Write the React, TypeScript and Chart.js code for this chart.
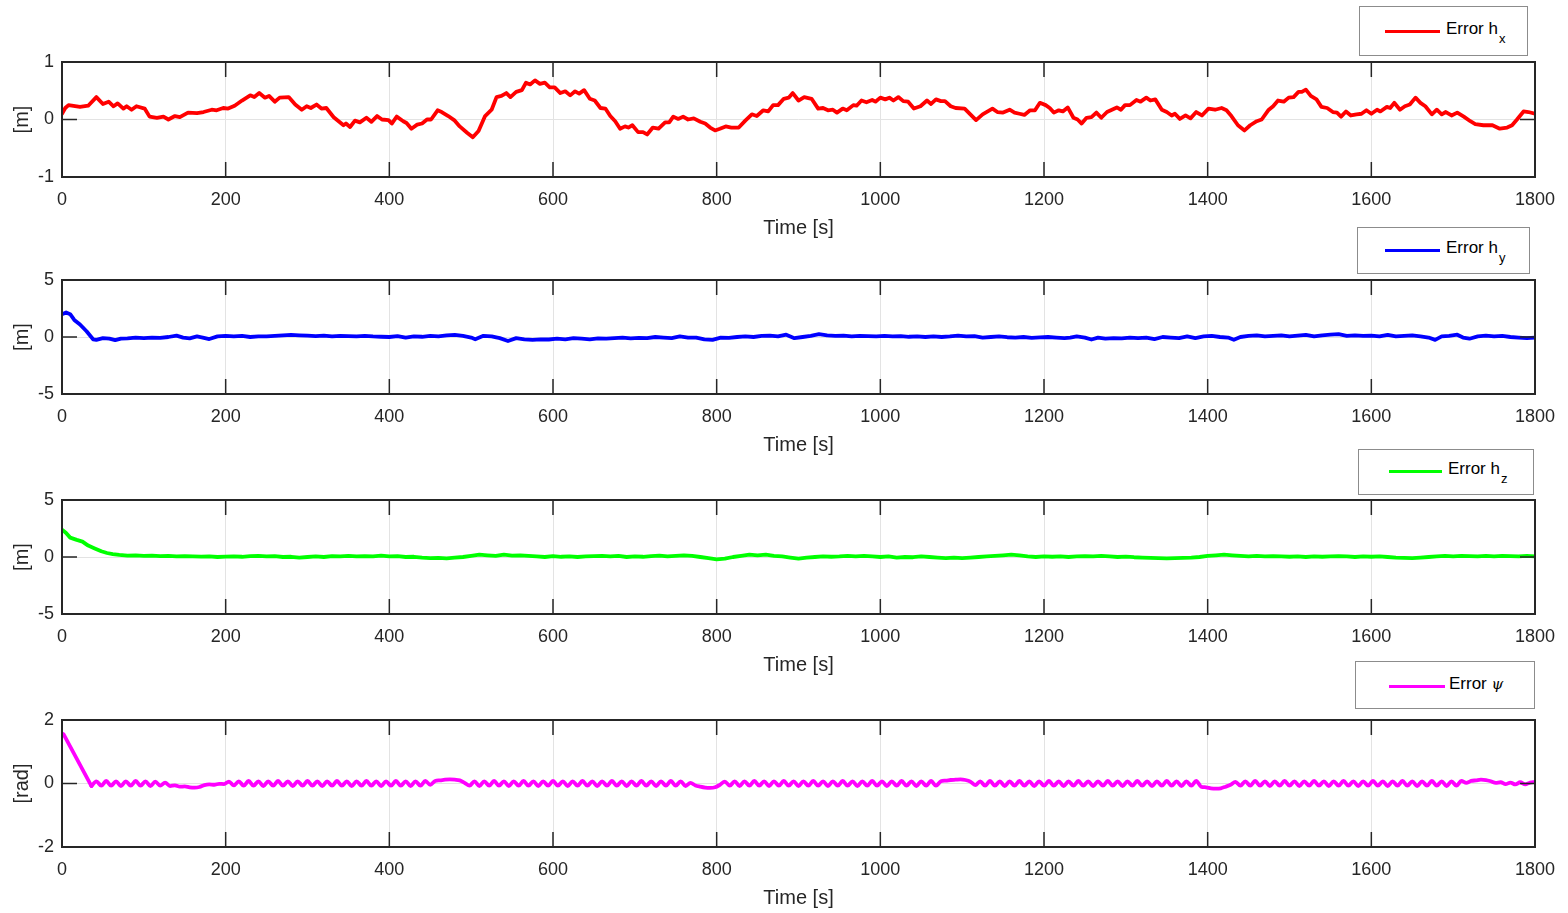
import React, { useEffect, useRef } from "react";
import { Chart, registerables } from "chart.js";

Chart.register(...registerables);

// ---------------- data ----------------
const X_MIN = 0;
const X_MAX = 1800;
const X_STEP = 200;

// Error h_x [m]
const hxT = [0,4,8,22,32,42,50,57,63,68,75,79,85,91,101,107,116,124,130,138,144,154,165,173,183,189,197,203,211,220,230,235,241,248,253,260,266,277,285,293,299,304,311,317,323,332,338,344,347,352,358,364,372,378,385,391,399,403,409,417,421,427,434,440,446,451,459,464,472,480,486,495,502,509,517,525,531,537,543,548,555,562,567,572,578,584,590,596,602,609,615,621,627,632,638,645,651,658,664,670,676,682,688,692,697,704,710,715,722,729,737,742,747,753,759,765,772,780,786,792,798,804,811,818,827,835,843,849,857,863,869,875,882,888,893,900,907,916,924,930,936,942,947,954,959,967,971,977,983,990,994,1000,1006,1011,1016,1022,1028,1034,1041,1049,1057,1062,1068,1074,1079,1086,1092,1103,1110,1117,1125,1137,1143,1150,1158,1164,1170,1176,1183,1189,1195,1202,1207,1212,1218,1223,1229,1236,1241,1246,1252,1258,1264,1270,1277,1283,1289,1294,1299,1305,1313,1318,1325,1330,1336,1344,1350,1356,1360,1366,1373,1379,1386,1393,1401,1409,1417,1423,1429,1437,1445,1452,1460,1466,1474,1480,1486,1493,1499,1505,1511,1515,1520,1526,1533,1539,1546,1553,1558,1563,1569,1575,1582,1588,1594,1600,1607,1611,1619,1623,1628,1635,1641,1647,1654,1660,1666,1674,1680,1686,1691,1698,1705,1713,1721,1727,1737,1748,1757,1766,1772,1778,1786,1792,1800];
const hxV = [0.1,0.2,0.25,0.22,0.24,0.39,0.27,0.31,0.23,0.28,0.19,0.23,0.17,0.23,0.19,0.05,0.03,0.05,0,0.06,0.04,0.12,0.11,0.13,0.17,0.16,0.2,0.19,0.24,0.33,0.42,0.39,0.46,0.38,0.41,0.31,0.38,0.39,0.26,0.17,0.23,0.2,0.26,0.19,0.2,0.04,-0.03,-0.1,-0.07,-0.13,-0.02,-0.05,0.03,-0.04,0.06,0,-0.01,-0.07,0.05,-0.03,-0.06,-0.16,-0.09,-0.07,0,0,0.16,0.13,0.06,-0.02,-0.12,-0.23,-0.31,-0.2,0.06,0.17,0.39,0.41,0.46,0.39,0.48,0.51,0.64,0.61,0.68,0.62,0.64,0.56,0.56,0.46,0.49,0.42,0.49,0.45,0.51,0.36,0.33,0.2,0.19,0.06,-0.03,-0.16,-0.12,-0.14,-0.1,-0.22,-0.22,-0.26,-0.14,-0.16,-0.05,-0.05,0.05,0.01,0.05,0,0.02,-0.04,-0.07,-0.14,-0.19,-0.16,-0.12,-0.14,-0.14,-0.02,0.09,0.06,0.16,0.14,0.25,0.25,0.36,0.38,0.46,0.33,0.39,0.36,0.19,0.2,0.16,0.17,0.12,0.19,0.16,0.25,0.24,0.33,0.3,0.34,0.31,0.38,0.35,0.38,0.33,0.39,0.32,0.31,0.19,0.23,0.33,0.27,0.35,0.32,0.32,0.23,0.2,0.19,0.09,-0.01,0.09,0.19,0.13,0.12,0.17,0.12,0.1,0.08,0.16,0.16,0.29,0.25,0.2,0.12,0.16,0.14,0.21,0.03,0,-0.07,0.03,0.04,0.12,0.03,0.13,0.17,0.21,0.17,0.25,0.25,0.34,0.31,0.38,0.33,0.35,0.17,0.13,0.07,0.1,0.01,0.07,0.02,0.13,0.07,0.19,0.17,0.2,0.16,0.06,-0.1,-0.19,-0.1,-0.03,0,0.16,0.23,0.33,0.31,0.38,0.39,0.48,0.48,0.52,0.41,0.35,0.22,0.2,0.13,0.12,0.05,0.14,0.07,0.09,0.1,0.16,0.1,0.17,0.14,0.22,0.2,0.29,0.17,0.23,0.26,0.38,0.29,0.23,0.09,0.17,0.09,0.13,0.07,0.12,0.05,-0.03,-0.08,-0.1,-0.1,-0.16,-0.14,-0.1,0,0.14,0.13,0.1];

// Error h_y [m]
const hyT = [0,5,10,15,22,30,38,42,50,58,65,72,80,90,100,110,120,130,140,148,156,165,172,180,190,200,210,220,230,240,250,260,270,280,290,300,310,320,330,340,350,360,370,380,390,400,410,420,430,440,450,460,470,480,490,500,505,515,525,535,545,555,565,575,585,595,605,615,625,635,645,655,665,675,685,695,705,715,725,735,745,755,765,775,785,795,805,815,825,835,845,855,865,875,885,895,905,915,925,935,945,955,965,975,985,995,1005,1015,1025,1035,1045,1055,1065,1075,1085,1095,1105,1115,1125,1135,1145,1155,1165,1175,1185,1195,1205,1215,1225,1232,1240,1250,1258,1266,1275,1285,1295,1305,1315,1325,1335,1345,1355,1365,1375,1385,1395,1405,1415,1425,1432,1440,1450,1460,1470,1480,1490,1500,1510,1520,1530,1540,1550,1560,1570,1580,1590,1600,1610,1620,1630,1640,1650,1660,1670,1678,1686,1695,1705,1712,1720,1730,1740,1750,1760,1770,1780,1790,1800];
const hyV = [2.0,2.15,2.0,1.5,1.1,0.5,-0.2,-0.25,-0.1,-0.15,-0.28,-0.15,-0.12,-0.05,-0.1,-0.05,-0.08,0.0,0.12,-0.05,-0.12,0.05,-0.05,-0.18,0.05,0.1,0.05,0.1,0.0,0.05,0.05,0.1,0.15,0.18,0.15,0.12,0.08,0.12,0.05,0.1,0.08,0.05,0.1,0.05,0.02,0.0,0.08,-0.05,0.05,0.02,0.1,0.05,0.15,0.18,0.1,-0.05,-0.2,0.1,0.05,-0.1,-0.35,-0.1,-0.2,-0.25,-0.2,-0.22,-0.15,-0.2,-0.1,-0.15,-0.2,-0.12,-0.15,-0.1,-0.05,-0.12,-0.08,-0.1,0.0,-0.05,-0.1,0.05,-0.05,-0.05,-0.2,-0.25,-0.05,-0.08,0.0,0.05,0.0,0.1,0.12,0.05,0.2,-0.1,0.0,0.1,0.25,0.15,0.1,0.12,0.05,0.1,0.08,0.05,0.1,0.05,0.08,0.02,0.05,0.0,0.05,0.0,0.05,0.12,0.05,0.08,-0.05,0.0,0.05,-0.02,-0.05,0.0,-0.08,-0.03,0.0,-0.05,-0.1,-0.05,0.05,-0.05,-0.22,-0.05,-0.15,-0.1,-0.12,-0.05,-0.1,-0.05,-0.18,0.0,-0.05,-0.1,0.05,-0.1,0.05,0.1,0.0,-0.05,-0.25,0.0,0.1,0.15,0.05,0.1,0.15,0.05,0.12,0.18,0.05,0.15,0.2,0.25,0.1,0.15,0.1,0.12,0.05,0.18,0.05,0.1,0.15,0.05,-0.05,-0.25,0.05,0.1,0.2,-0.05,-0.15,0.05,0.12,0.05,0.1,0.0,-0.05,-0.1,-0.05];

// Error h_z [m]
const hzT = [0,5,10,18,25,32,40,48,55,62,70,80,90,100,110,120,130,140,150,160,170,180,190,200,210,220,230,240,250,260,270,280,290,300,310,320,330,340,350,360,370,380,390,400,410,420,430,440,450,460,470,480,490,500,510,520,530,540,550,560,570,580,590,600,610,620,630,640,650,660,670,680,690,700,710,720,730,740,750,760,770,780,790,800,810,820,830,840,850,860,870,880,890,900,910,920,930,940,950,960,970,980,990,1000,1010,1020,1030,1040,1050,1060,1070,1080,1090,1100,1110,1120,1130,1140,1150,1160,1170,1180,1190,1200,1210,1220,1230,1240,1250,1260,1270,1280,1290,1300,1310,1320,1330,1340,1350,1360,1370,1380,1390,1400,1410,1420,1430,1440,1450,1460,1470,1480,1490,1500,1510,1520,1530,1540,1550,1560,1570,1580,1590,1600,1610,1620,1630,1640,1650,1660,1670,1680,1690,1700,1710,1720,1730,1740,1750,1760,1770,1780,1790,1800];
const hzV = [2.4,2.1,1.7,1.5,1.35,1.0,0.75,0.5,0.35,0.25,0.18,0.12,0.15,0.1,0.12,0.08,0.1,0.05,0.08,0.05,0.03,0.05,0.0,0.03,0.05,0.02,0.08,0.1,0.05,0.08,0.0,0.02,-0.05,0.0,0.05,0.0,0.08,0.05,0.1,0.05,0.08,0.05,0.12,0.05,0.08,0.0,0.02,-0.05,-0.1,-0.08,-0.12,-0.05,0.0,0.1,0.2,0.15,0.1,0.2,0.12,0.15,0.1,0.05,0.0,0.08,0.02,0.05,0.0,0.05,0.08,0.1,0.05,0.1,0.0,0.05,0.02,0.08,0.12,0.05,0.1,0.15,0.1,0.0,-0.1,-0.2,-0.15,0.0,0.1,0.2,0.15,0.2,0.1,0.05,-0.05,-0.15,-0.05,0.0,0.05,0.02,0.05,0.1,0.05,0.1,0.05,0.0,0.05,-0.05,0.0,-0.02,0.05,0.0,-0.05,-0.1,-0.05,-0.1,-0.05,0.0,0.05,0.1,0.15,0.2,0.15,0.05,0.0,0.05,0.02,0.05,0.0,0.05,0.08,0.05,0.1,0.05,0.0,0.03,-0.02,-0.05,-0.08,-0.1,-0.12,-0.1,-0.08,-0.05,0.0,0.1,0.15,0.2,0.15,0.1,0.05,0.1,0.05,0.08,0.05,0.02,0.05,0.0,0.05,0.02,0.05,0.08,0.05,0.0,0.05,0.02,0.05,0.0,-0.05,-0.08,-0.1,-0.05,0.0,0.05,0.1,0.05,0.1,0.08,0.05,0.1,0.05,0.1,0.08,0.05,0.1,0.05];

// Error psi [rad]: initial transient, then samples every PSI_DT seconds from PSI_T0
const psiStartT = [0, 2, 36];
const psiStartV = [1.58, 1.55, -0.08];
const PSI_T0 = 36;
const PSI_DT = 6;
const psiV = [
  -0.08,0.07,-0.07,0.08,-0.07,0.07,-0.08,0.07,-0.07,0.08,-0.07,0.07,-0.08,0.06,-0.07,0.03,-0.08,-0.06,-0.1,-0.09,-0.12,-0.13,-0.11,-0.05,-0.03,-0.04,-0.01,-0.02,
  0.06,-0.06,0.07,-0.07,0.08,-0.07,0.07,-0.08,0.07,-0.07,
  0.08,-0.07,0.07,-0.08,0.07,-0.07,0.08,-0.07,0.07,-0.08,
  0.07,-0.07,0.08,-0.07,0.07,-0.08,0.07,-0.07,0.08,-0.07,
  0.07,-0.08,0.07,-0.07,0.08,-0.07,0.07,-0.08,0.07,-0.07,
  0.08,-0.04,
  0.08,0.1,0.12,0.13,0.12,0.1,0.02,
  -0.07,0.07,-0.08,0.07,-0.07,0.08,-0.07,0.07,-0.08,0.07,
  -0.07,0.08,-0.07,0.07,-0.08,0.07,-0.07,0.08,-0.07,0.07,
  -0.08,0.07,-0.07,0.08,-0.07,0.07,-0.08,0.07,-0.07,0.08,
  -0.07,0.07,-0.08,0.07,-0.07,0.08,-0.07,0.07,-0.08,0.07,
  -0.07,0.08,-0.07,0.07,-0.08,0.02,
  -0.06,-0.1,-0.13,-0.14,-0.12,
  -0.04,0.06,-0.07,0.07,-0.08,0.07,-0.07,0.08,-0.07,0.07,
  -0.08,0.07,-0.07,0.08,-0.07,0.07,-0.08,0.07,-0.07,0.08,
  -0.07,0.07,-0.08,0.07,-0.07,0.08,-0.07,0.07,-0.08,0.07,
  -0.07,0.08,-0.07,0.07,-0.08,0.07,-0.07,0.08,-0.07,0.07,
  -0.08,0.07,-0.07,0.08,-0.07,0.07,
  0.09,0.11,0.12,0.13,0.11,0.06,
  -0.05,0.07,-0.07,0.08,-0.07,0.07,-0.08,0.07,-0.07,0.08,
  -0.07,0.07,-0.08,0.07,-0.07,0.08,-0.07,0.07,-0.08,0.07,
  -0.07,0.08,-0.07,0.07,-0.08,0.07,-0.07,0.08,-0.07,0.07,
  -0.08,0.07,-0.07,0.08,-0.07,0.07,-0.08,0.07,-0.07,0.08,
  -0.07,0.07,-0.08,0.07,-0.07,0.08,-0.1,
  -0.12,-0.15,-0.16,-0.15,-0.1,
  -0.04,0.05,-0.07,0.07,-0.07,0.08,-0.07,0.07,-0.08,0.07,
  -0.07,0.08,-0.07,0.07,-0.08,0.07,-0.07,0.08,-0.07,0.07,
  -0.08,0.07,-0.07,0.08,-0.07,0.07,-0.08,0.07,-0.07,0.08,
  -0.07,0.07,-0.08,0.07,-0.07,0.08,-0.07,0.07,-0.08,0.07,
  -0.07,0.08,-0.07,0.07,-0.08,0.07,-0.07,0.08,0.02,
  0.08,0.1,0.12,0.11,0.07,
  0.02,0.04,-0.02,0.03,-0.03,0.04,-0.03,0.03,0.05,
];

// ---------------- styling ----------------
const FONT = "'Liberation Sans', Arial, Helvetica, sans-serif";
const AX = "#262626";
const GRID = "#e3e3e3";

const framePlugin = {
  id: "matlabFrame",
  afterDraw(chart: any) {
    const { ctx, chartArea: a, scales } = chart;
    const xs = scales.x;
    const ys = scales.y;
    const TL = 15;
    ctx.save();
    ctx.strokeStyle = AX;
    ctx.lineWidth = 1.5;
    ctx.beginPath();
    for (const t of xs.ticks) {
      const px = xs.getPixelForValue(t.value);
      ctx.moveTo(px, a.bottom);
      ctx.lineTo(px, a.bottom - TL);
      ctx.moveTo(px, a.top);
      ctx.lineTo(px, a.top + TL);
    }
    for (const t of ys.ticks) {
      const py = ys.getPixelForValue(t.value);
      ctx.moveTo(a.left, py);
      ctx.lineTo(a.left + TL, py);
      ctx.moveTo(a.right, py);
      ctx.lineTo(a.right - TL, py);
    }
    ctx.stroke();
    ctx.lineWidth = 2;
    ctx.strokeRect(a.left, a.top, a.right - a.left, a.bottom - a.top);
    ctx.restore();
  },
};

type Series = { points: { x: number; y: number }[]; smooth?: boolean };

type PanelProps = {
  top: number;
  height: number;
  series: Series[];
  color: string;
  yMin: number;
  yMax: number;
  yStep: number;
  yTitle: string;
};

const plainTick = (v: any) => String(v);

function Panel(p: PanelProps) {
  const ref = useRef<HTMLCanvasElement | null>(null);
  useEffect(() => {
    if (!ref.current) return;
    const chart = new Chart(ref.current, {
      type: "line",
      data: {
        datasets: p.series.map(
          (s) =>
            ({
              data: s.points,
              borderColor: p.color,
              borderWidth: 3.8,
              pointRadius: 0,
              fill: false,
              cubicInterpolationMode: s.smooth ? "monotone" : "default",
              tension: 0,
              borderJoinStyle: "round",
              borderCapStyle: "round",
            } as any)
        ),
      },
      options: {
        animation: false,
        responsive: false,
        devicePixelRatio: 1,
        layout: { padding: { top: 62, right: 33, left: 0, bottom: 0 } },
        plugins: { legend: { display: false }, tooltip: { enabled: false } },
        scales: {
          x: {
            type: "linear",
            min: X_MIN,
            max: X_MAX,
            ticks: {
              stepSize: X_STEP,
              color: AX,
              font: { size: 18, family: FONT },
              padding: 12,
              maxRotation: 0,
              autoSkip: false,
              callback: plainTick,
            },
            grid: { color: GRID, drawTicks: false, lineWidth: 1 },
            border: { display: false },
            title: {
              display: true,
              text: "Time [s]",
              color: AX,
              font: { size: 20, family: FONT },
              padding: { top: 0, bottom: 1 },
            },
            afterFit: (s: any) => {
              s.height = 64;
            },
          },
          y: {
            type: "linear",
            min: p.yMin,
            max: p.yMax,
            ticks: {
              stepSize: p.yStep,
              color: AX,
              font: { size: 18, family: FONT },
              padding: 8,
              callback: plainTick,
            },
            grid: { color: GRID, drawTicks: false, lineWidth: 1 },
            border: { display: false },
            title: {
              display: true,
              text: p.yTitle,
              color: AX,
              font: { size: 20, family: FONT },
              padding: { top: 10, bottom: 0 },
            },
            afterFit: (s: any) => {
              s.width = 62;
            },
          },
        },
      } as any,
      plugins: [framePlugin],
    });
    return () => chart.destroy();
  }, []);
  return (
    <canvas
      ref={ref}
      width={1568}
      height={p.height}
      style={{ position: "absolute", left: 0, top: p.top, width: 1568, height: p.height }}
    />
  );
}

type LegendProps = {
  box: [number, number, number, number];
  lineX: [number, number];
  lineY: number;
  textX: number;
  color: string;
  children: React.ReactNode;
};

function LegendBox({ box, lineX, lineY, textX, color, children }: LegendProps) {
  const [l, t, r, b] = box;
  return (
    <>
      <div
        style={{
          position: "absolute",
          left: l,
          top: t,
          width: r - l,
          height: b - t,
          border: "1px solid #8c8c8c",
          boxSizing: "border-box",
          background: "#fff",
        }}
      />
      <div
        style={{
          position: "absolute",
          left: lineX[0],
          top: lineY - 1.5,
          width: lineX[1] - lineX[0],
          height: 3.5,
          background: color,
        }}
      />
      <div
        style={{
          position: "absolute",
          left: textX,
          top: lineY - 12,
          fontFamily: FONT,
          fontSize: 17,
          color: "#000",
          lineHeight: "20px",
          whiteSpace: "nowrap",
        }}
      >
        {children}
      </div>
    </>
  );
}

const subStyle: React.CSSProperties = { fontSize: 13, position: "relative", top: 9, marginLeft: 1 };

export default function App() {
  const hx = hxT.map((t, i) => ({ x: t, y: hxV[i] }));
  const hy = hyT.map((t, i) => ({ x: t, y: hyV[i] }));
  const hz = hzT.map((t, i) => ({ x: t, y: hzV[i] }));
  const psiStart = psiStartT.map((t, i) => ({ x: t, y: psiStartV[i] }));
  const psiOsc = psiV.map((v, i) => ({ x: PSI_T0 + i * PSI_DT, y: v }));
  return (
    <div
      style={{
        position: "absolute",
        left: 0,
        top: 0,
        width: 1568,
        height: 913,
        background: "#fff",
        overflow: "hidden",
      }}
    >
      <Panel top={0} height={241} series={[{ points: hx }]} color="#ff0000" yMin={-1} yMax={1} yStep={1} yTitle="[m]" />
      <Panel top={218} height={240} series={[{ points: hy }]} color="#0000ff" yMin={-5} yMax={5} yStep={5} yTitle="[m]" />
      <Panel top={438} height={240} series={[{ points: hz }]} color="#00ff00" yMin={-5} yMax={5} yStep={5} yTitle="[m]" />
      <Panel
        top={658}
        height={253}
        series={[{ points: psiStart }, { points: psiOsc, smooth: true }]}
        color="#ff00ff"
        yMin={-2}
        yMax={2}
        yStep={2}
        yTitle="[rad]"
      />

      <LegendBox box={[1359, 6, 1528, 56]} lineX={[1385, 1440]} lineY={31} textX={1446} color="#ff0000">
        Error h<span style={subStyle}>x</span>
      </LegendBox>
      <LegendBox box={[1357, 227, 1530, 274]} lineX={[1385, 1440]} lineY={250} textX={1446} color="#0000ff">
        Error h<span style={subStyle}>y</span>
      </LegendBox>
      <LegendBox box={[1358, 449, 1534, 495]} lineX={[1389, 1442]} lineY={471} textX={1448} color="#00ff00">
        Error h<span style={subStyle}>z</span>
      </LegendBox>
      <LegendBox box={[1355, 661, 1535, 709]} lineX={[1389, 1445]} lineY={686} textX={1449} color="#ff00ff">
        Error <i style={{ fontFamily: "'DejaVu Serif', serif", fontSize: 15 }}>ψ</i>
      </LegendBox>
    </div>
  );
}
